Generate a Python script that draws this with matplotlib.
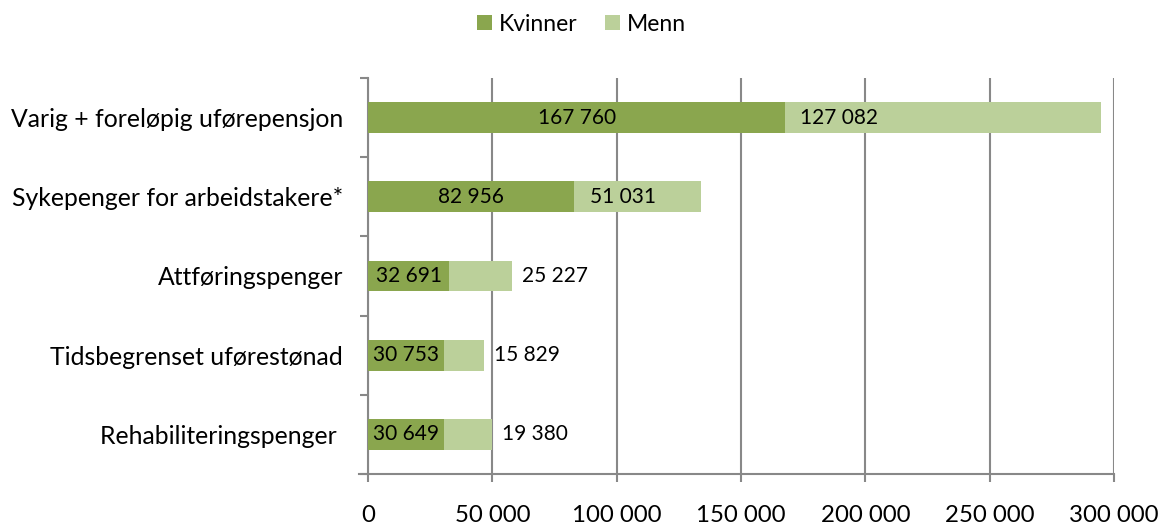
import numpy as np
import matplotlib.pyplot as plt

kategorier = ["Varig + foreløpig uførepensjon", "Sykepenger for arbeidstakere*",
              "Attføringspenger", "Tidsbegrenset uførestønad", "Rehabiliteringspenger "]
kvinner = [167760, 82956, 32691, 30753, 30649]
menn = [127082, 51031, 25227, 15829, 19380]
x_ticks = [0, 50000, 100000, 150000, 200000, 250000, 300000]

def fmt(v):
    return f"{v:,}".replace(",", " ")

plt.rcParams['font.family'] = ['Lato', 'DejaVu Sans']

fig = plt.figure(figsize=(11.58, 5.26), dpi=100)
ax = fig.add_axes([0.3178, 0.0989, 0.962 - 0.3178, 0.8517 - 0.0989])

y = np.arange(len(kategorier))
mork = "#8AA64E"
lys = "#BBD09A"
ax.barh(y, kvinner, height=0.39, color=mork, label="Kvinner", zorder=3)
ax.barh(y, menn, left=kvinner, height=0.39, color=lys, label="Menn", zorder=3)

for i in range(len(kategorier)):
    ax.text(kvinner[i] / 2, y[i], fmt(kvinner[i]), ha="center", va="center",
            fontsize=15, zorder=4)
    if i < 2:
        ax.annotate(fmt(menn[i]), (kvinner[i], y[i]), xytext=(11, 0),
                    textcoords="offset points", ha="left", va="center",
                    fontsize=15, zorder=4)
    else:
        ax.annotate(fmt(menn[i]), (kvinner[i] + menn[i], y[i]), xytext=(7, 0),
                    textcoords="offset points", ha="left", va="center",
                    fontsize=15, zorder=4)

ax.set_xlim(0, 300000)
ax.set_ylim(len(kategorier) - 0.5, -0.5)
ax.set_xticks(x_ticks)
ax.set_xticklabels([fmt(v) for v in x_ticks], fontsize=17.3)
ax.set_yticks(y)
ax.set_yticklabels(kategorier, fontsize=17.8)
ax.set_yticks(np.arange(len(kategorier) + 1) - 0.5, minor=True)
ax.tick_params(axis="y", which="major", length=0, pad=18)
ax.tick_params(axis="y", which="minor", length=6, color="#888888", width=1.5)
ax.tick_params(axis="x", length=6, color="#888888", width=1.5, pad=16)

ax.grid(axis="x", color="#888888", linewidth=1.5, zorder=0)
for s in ["top", "right"]:
    ax.spines[s].set_visible(False)
ax.spines["left"].set_color("#888888")
ax.spines["left"].set_linewidth(1.5)
ax.spines["bottom"].set_color("#888888")
ax.spines["bottom"].set_linewidth(1.5)
ax.spines["bottom"].set_bounds(-3500, 300000)

fig.legend(loc="upper center", bbox_to_anchor=(0.502, 1.013), ncol=2, frameon=False,
           fontsize=16.5, handlelength=0.65, handleheight=0.65, handletextpad=0.3,
           columnspacing=1.2)

plt.savefig("out.png", dpi=100)
